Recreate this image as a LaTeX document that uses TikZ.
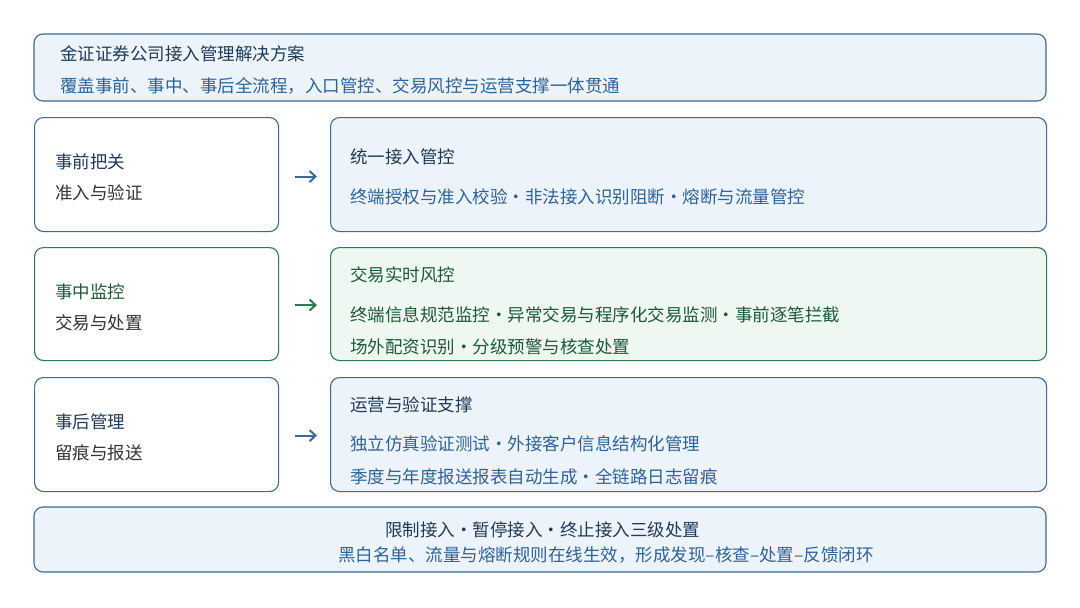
\documentclass[tikz,border=0pt]{standalone}
\usepackage{fontspec}
\setmainfont{Noto Sans CJK SC}
\usetikzlibrary{arrows.meta}
\definecolor{navy}{HTML}{1F3A5A}
\definecolor{sub}{HTML}{2E6399}
\definecolor{bfill}{HTML}{EDF3FA}
\definecolor{bdraw}{HTML}{3D6A96}
\definecolor{gfill}{HTML}{EEF7F1}
\definecolor{gdraw}{HTML}{2F7A4E}
\definecolor{gtext}{HTML}{1E5A36}
\definecolor{dark}{HTML}{333333}
\begin{document}
\begin{tikzpicture}[x=1pt,y=-1pt,
  box/.style={draw=bdraw,fill=bfill,line width=1.1pt,rounded corners=9pt},
  gbox/.style={draw=gdraw,fill=gfill,line width=1.1pt,rounded corners=9pt},
  lbox/.style={draw=bdraw,fill=white,line width=1.1pt,rounded corners=9pt},
  lgbox/.style={draw=gdraw,fill=white,line width=1.1pt,rounded corners=9pt},
  t/.style={anchor=west,inner sep=0pt,font=\fontsize{17.5}{20}\selectfont},
  arr/.style={-{Straight Barb[length=6pt,width=11pt,line width=2pt]},line width=2pt}]
\useasboundingbox (0,0) rectangle (1080,608);
\fill[white] (0,0) rectangle (1080,608);
\draw[box] (34,34) rectangle (1046,101);
\node[t,text=navy] (h1) at (60,54) {金证证券公司接入管理解决方案};
\node[t,text=sub] (h2) at (60,86) {覆盖事前、事中、事后全流程，入口管控、交易风控与运营支撑一体贯通};
% row 1
\node[lbox,minimum width=244pt,minimum height=114pt,anchor=north west] (l1) at (34,117) {};
\node[box,minimum width=716pt,minimum height=114pt,anchor=north west] (r1) at (330,117) {};
\node[t,text=navy] (l1a) at (55,162) {事前把关};
\node[t,text=dark] (l1b) at (55,193) {准入与验证};
\node[t,text=navy] (r1a) at (350,157) {统一接入管控};
\node[t,text=sub] (r1b) at (350,197) {终端授权与准入校验·非法接入识别阻断·熔断与流量管控};
\draw[arr,bdraw] ([xshift=16pt,yshift=-2pt]l1.east) -- ([xshift=-13pt,yshift=-2pt]r1.west);
% row 2
\node[lgbox,minimum width=244pt,minimum height=113pt,anchor=north west] (l2) at (34,247) {};
\node[gbox,minimum width=716pt,minimum height=113pt,anchor=north west] (r2) at (330,247) {};
\node[t,text=gtext] (l2a) at (55,292) {事中监控};
\node[t,text=dark] (l2b) at (55,323) {交易与处置};
\node[t,text=gtext] (r2a) at (350,275) {交易实时风控};
\node[t,text=gtext] (r2b) at (350,315) {终端信息规范监控·异常交易与程序化交易监测·事前逐笔拦截};
\node[t,text=gtext] (r2c) at (350,347) {场外配资识别·分级预警与核查处置};
\draw[arr,gdraw] ([xshift=16pt,yshift=-1pt]l2.east) -- ([xshift=-13pt,yshift=-1pt]r2.west);
% row 3
\node[lbox,minimum width=244pt,minimum height=114pt,anchor=north west] (l3) at (34,377) {};
\node[box,minimum width=716pt,minimum height=114pt,anchor=north west] (r3) at (330,377) {};
\node[t,text=navy] (l3a) at (55,422) {事后管理};
\node[t,text=dark] (l3b) at (55,453) {留痕与报送};
\node[t,text=navy] (r3a) at (350,405) {运营与验证支撑};
\node[t,text=sub] (r3b) at (350,444) {独立仿真验证测试·外接客户信息结构化管理};
\node[t,text=sub] (r3c) at (350,477) {季度与年度报送报表自动生成·全链路日志留痕};
\draw[arr,bdraw] ([xshift=16pt,yshift=-1pt]l3.east) -- ([xshift=-13pt,yshift=-1pt]r3.west);
% bottom
\draw[box] (34,507) rectangle (1046,572);
\node[t,text=navy] (b1) at (385,530) {限制接入·暂停接入·终止接入三级处置};
\node[t,text=sub] (b2) at (338,555) {黑白名单、流量与熔断规则在线生效，形成发现–核查–处置–反馈闭环};
\end{tikzpicture}
\end{document}
